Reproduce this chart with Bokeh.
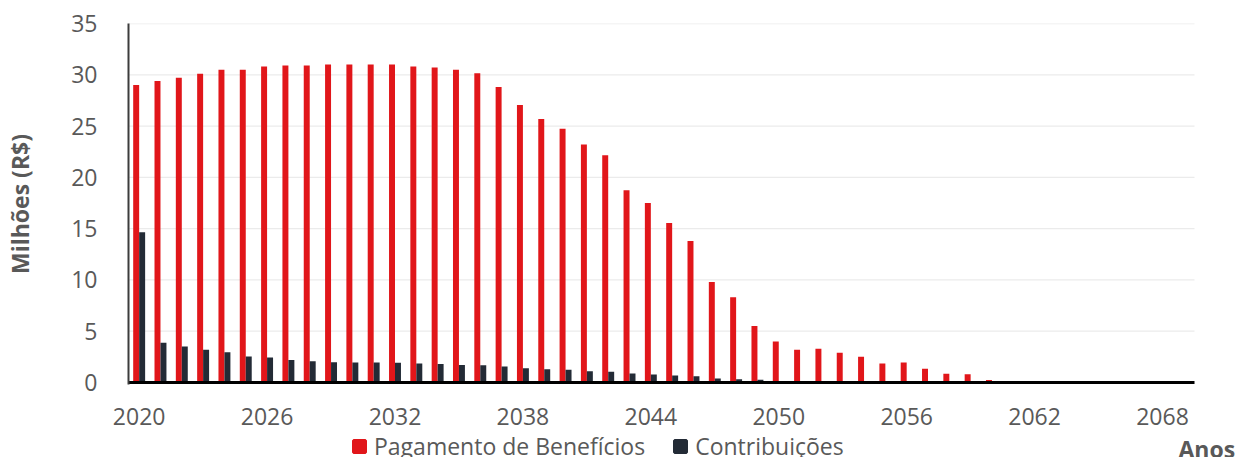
from bokeh.plotting import figure
from bokeh.models import (ColumnDataSource, Range1d, FixedTicker, Legend, LegendItem, Label)
from bokeh.layouts import column
from bokeh.transform import dodge
from bokeh.embed import file_html
from bokeh.resources import INLINE

years = list(range(2020, 2070))
pagamento = [29.0, 29.4, 29.7, 30.1, 30.5, 30.5, 30.8, 30.9, 30.9, 31.0,
             31.0, 31.0, 31.0, 30.8, 30.7, 30.5, 30.15, 28.8, 27.05, 25.7,
             24.75, 23.2, 22.15, 18.75, 17.5, 15.55, 13.8, 9.8, 8.3, 5.5,
             4.0, 3.2, 3.3, 2.9, 2.5, 1.85, 1.95, 1.35, 0.85, 0.8,
             0.25, 0.05, 0, 0, 0, 0, 0, 0, 0, 0]
contribuicoes = [14.65, 3.87, 3.5, 3.2, 2.95, 2.53, 2.44, 2.2, 2.08, 1.98,
                 1.95, 1.95, 1.93, 1.85, 1.8, 1.7, 1.67, 1.56, 1.4, 1.3,
                 1.24, 1.1, 1.04, 0.88, 0.78, 0.68, 0.62, 0.39, 0.32, 0.26,
                 0.13, 0.1, 0.08, 0.06, 0.05, 0.04, 0.03, 0.02, 0.02, 0.01,
                 0.01, 0, 0, 0, 0, 0, 0, 0, 0, 0]
x_ticks = [2020, 2026, 2032, 2038, 2044, 2050, 2056, 2062, 2068]
y_ticks = [0, 5, 10, 15, 20, 25, 30, 35]
series_names = ["Pagamento de Benefícios", "Contribuições"]

RED = "#E1161A"
DARK = "#232B36"
GRAY = "#595959"
GRID = "#EBEBEB"
FONT = "Open Sans"

# layout (pixels)
W = 1236
H1 = 434
H2 = 457 - H1
LEFT = 128          # frame left
TOP = 23            # y = 35
ZERO = 382          # y = 0
BOTTOM = 384        # frame bottom
AXIS_END = 1194     # where the category axis ends

ppu = (ZERO - TOP) / 35.0
y_start = -(BOTTOM - ZERO) / ppu
ppy = (AXIS_END - LEFT) / len(years)
x0 = years[0] - 0.5
x1 = years[-1] + 0.5
x_end = x0 + (W - LEFT) / ppy

src = ColumnDataSource(dict(year=years, pag=pagamento, con=contribuicoes))
grid_src = ColumnDataSource(dict(y=y_ticks[1:], xa=[x0] * (len(y_ticks) - 1),
                                 xb=[x1] * (len(y_ticks) - 1)))

p = figure(width=W, height=H1, output_backend="svg", toolbar_location=None,
           x_range=Range1d(x0, x_end), y_range=Range1d(y_start, 35),
           min_border_left=LEFT, min_border_right=0, min_border_top=TOP,
           min_border_bottom=H1 - BOTTOM)
p.outline_line_color = None
p.xgrid.grid_line_color = None
p.ygrid.grid_line_color = None

p.segment(x0="xa", x1="xb", y0="y", y1="y", source=grid_src,
          line_color=GRID, line_width=1.3)

r1 = p.vbar(x=dodge("year", -0.14, range=p.x_range), top="pag", width=0.28,
            source=src, fill_color=RED, line_color=None)
r2 = p.vbar(x=dodge("year", 0.14, range=p.x_range), top="con", width=0.28,
            source=src, fill_color=DARK, line_color=None)

# category axis baseline
p.segment(x0=[x0], x1=[x1], y0=[0], y1=[0], line_color="black", line_width=3)

xa = p.xaxis[0]
xa.ticker = FixedTicker(ticks=x_ticks)
xa.axis_line_color = None
xa.major_tick_line_color = None
xa.minor_tick_line_color = None
xa.major_label_text_font = FONT
xa.major_label_text_font_size = "23px"
xa.major_label_text_color = GRAY
xa.major_label_standoff = 17

ya = p.yaxis[0]
ya.ticker = FixedTicker(ticks=y_ticks)
ya.axis_line_color = "#3C3C3C"
ya.axis_line_width = 2
ya.major_tick_line_color = None
ya.minor_tick_line_color = None
ya.major_label_text_font = FONT
ya.major_label_text_font_size = "23px"
ya.major_label_text_color = GRAY
ya.major_label_standoff = 25
ya.axis_label = "Milhões (R$)"
ya.axis_label_text_font = FONT
ya.axis_label_text_font_size = "23px"
ya.axis_label_text_font_style = "bold"
ya.axis_label_text_color = GRAY
ya.axis_label_standoff = 32

# bottom strip: legend and "Anos" caption (x in page pixels)
p2 = figure(width=W, height=H2, output_backend="svg", toolbar_location=None,
            x_range=Range1d(LEFT, W), y_range=Range1d(0, H2),
            min_border_left=LEFT, min_border_right=0, min_border_top=0,
            min_border_bottom=0, x_axis_type=None, y_axis_type=None)
p2.outline_line_color = None
p2.grid.visible = False
# legend proxies (their points fall outside this strip's range)
g1 = p2.scatter(x="year", y="pag", marker="square", source=src,
                fill_color=RED, line_color=RED, line_width=3)
g2 = p2.scatter(x="year", y="con", marker="square", source=src,
                fill_color=DARK, line_color=DARK, line_width=3)

legend = Legend(items=[LegendItem(label=series_names[0], renderers=[g1]),
                       LegendItem(label=series_names[1], renderers=[g2])],
                orientation="horizontal", location=(216 , -5),
                padding=0, margin=0, spacing=20, label_standoff=0,
                glyph_width=30, glyph_height=30,
                label_text_font=FONT, label_text_font_size="23px",
                label_text_color=GRAY, border_line_color=None,
                background_fill_alpha=0)
p2.add_layout(legend)

anos = Label(x=1178, y=457 - 448, text="Anos", text_font=FONT,
             text_font_size="23px", text_font_style="bold", text_color=GRAY,
             text_align="left", text_baseline="middle")
p2.add_layout(anos)

layout = column(p, p2, spacing=0)
open("out.html", "w").write(file_html(layout, INLINE))
